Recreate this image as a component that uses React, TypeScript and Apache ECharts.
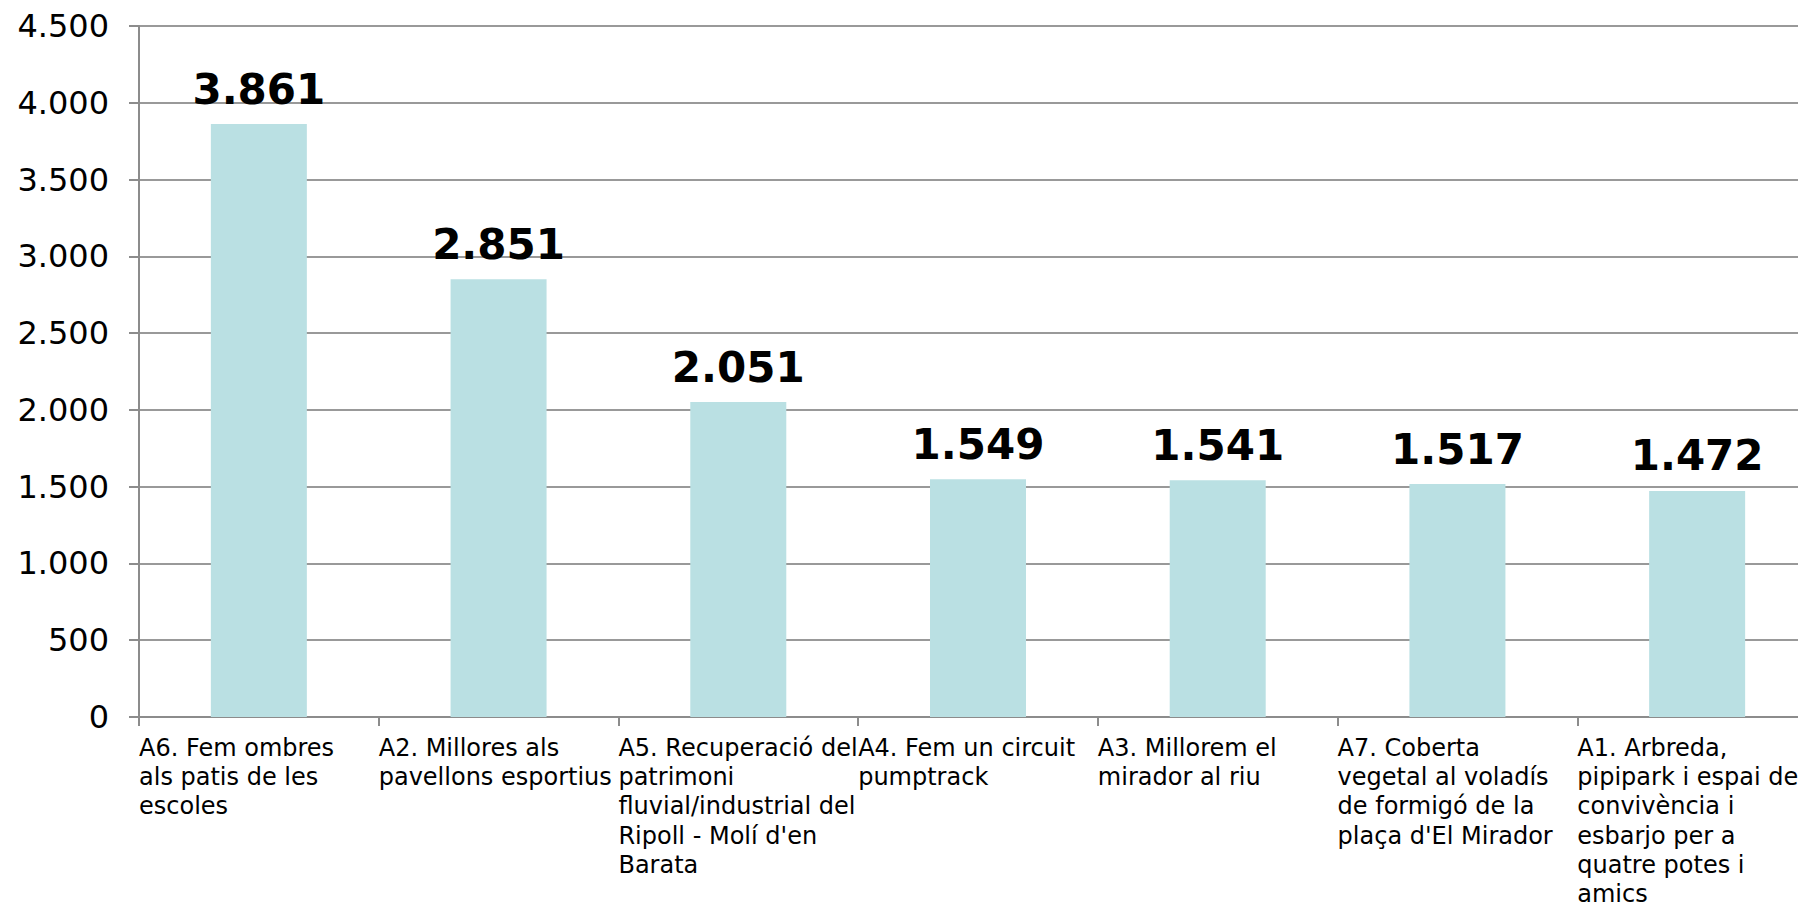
import React, { useEffect, useRef } from "react";
import * as echarts from "echarts";

const categories = [
  "A6. Fem ombres\nals patis de les\nescoles",
  "A2. Millores als\npavellons esportius",
  "A5. Recuperació del\npatrimoni\nfluvial/industrial del\nRipoll - Molí d'en\nBarata",
  "A4. Fem un circuit\npumptrack",
  "A3. Millorem el\nmirador al riu",
  "A7. Coberta\nvegetal al voladís\nde formigó de la\nplaça d'El Mirador",
  "A1. Arbreda,\npipipark i espai de\nconvivència i\nesbarjo per a\nquatre potes i\namics",
];
const values = [3861, 2851, 2051, 1549, 1541, 1517, 1472];
const yMin = 0;
const yMax = 4500;
const yInterval = 500;

const fmt = (v: number) => String(Math.round(v)).replace(/\B(?=(\d{3})+(?!\d))/g, ".");

const FONT = "'DejaVu Sans', Verdana, sans-serif";

export default function App() {
  const ref = useRef<HTMLDivElement>(null);
  useEffect(() => {
    if (!ref.current) return;
    const chart = echarts.init(ref.current, null, { renderer: "svg" });
    chart.setOption({
      animation: false,
      backgroundColor: "#ffffff",
      grid: {
        left: 139,
        right: 23,
        top: 26,
        bottom: 188,
        containLabel: false,
        outerBoundsMode: "none",
      },
      xAxis: [
        {
          type: "category",
          data: categories.map((_, i) => "c" + i),
          boundaryGap: true,
          axisLine: { show: true, lineStyle: { color: "#8c8c8c", width: 2 } },
          axisTick: { show: true, length: 9, lineStyle: { color: "#8c8c8c", width: 2 } },
          axisLabel: { show: false },
          splitLine: { show: false },
        },
        {
          type: "category",
          position: "bottom",
          data: [...categories, ""],
          boundaryGap: false,
          axisLine: { show: false },
          axisTick: { show: false },
          splitLine: { show: false },
          axisLabel: {
            show: true,
            interval: 0,
            align: "left",
            verticalAlign: "top",
            margin: 16,
            color: "#000",
            fontFamily: FONT,
            fontSize: 24,
            lineHeight: 29.3,
            hideOverlap: false,
          },
        },
      ],
      yAxis: {
        type: "value",
        min: yMin,
        max: yMax,
        interval: yInterval,
        axisLine: { show: true, lineStyle: { color: "#8c8c8c", width: 2 } },
        axisTick: { show: true, length: 10, lineStyle: { color: "#8c8c8c", width: 2 } },
        splitLine: { show: true, lineStyle: { color: "#999999", width: 2 } },
        axisLabel: {
          margin: 30,
          color: "#000",
          fontFamily: FONT,
          fontSize: 32,
          formatter: (v: number) => fmt(v),
        },
      },
      series: [
        {
          type: "bar",
          xAxisIndex: 0,
          data: values,
          barWidth: 96,
          itemStyle: { color: "#bae0e3" },
          label: {
            show: true,
            position: "top",
            distance: 14,
            color: "#000",
            fontFamily: FONT,
            fontWeight: "bold",
            fontSize: 42,
            formatter: (p: any) => fmt(p.value),
          },
        },
      ],
    });
    return () => chart.dispose();
  }, []);
  return (
    <div
      style={{
        position: "fixed",
        left: 0,
        top: 0,
        width: 1798,
        height: 905,
        overflow: "hidden",
        background: "#fff",
      }}
    >
      <div ref={ref} style={{ width: 1840, height: 905 }} />
    </div>
  );
}
